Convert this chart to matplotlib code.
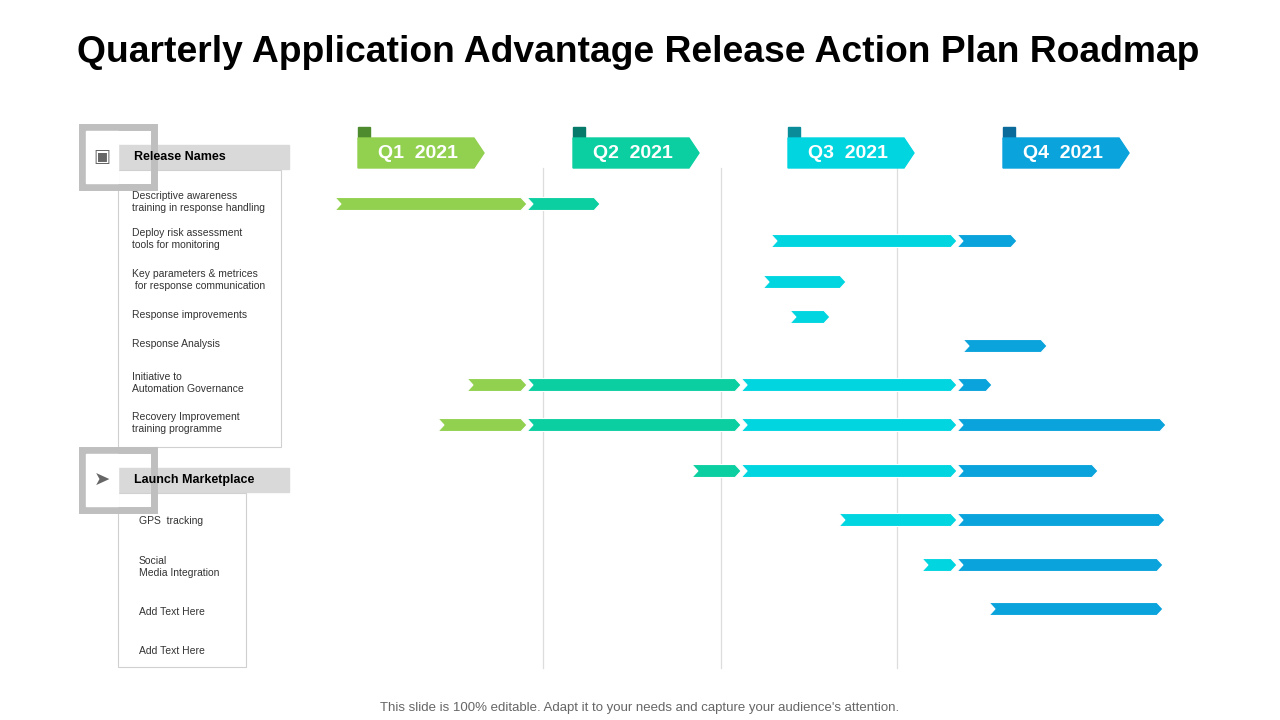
import matplotlib.pyplot as plt
from matplotlib.patches import Polygon, Rectangle

plt.rcParams["font.family"] = "Liberation Sans"

# timeline unit: 1.0 = one quarter, 0 = start of the Q1 flag
quarters = ["Q1  2021", "Q2  2021", "Q3  2021", "Q4  2021"]
quarter_colors = ["#92D050", "#0BCFA0", "#00D5E0", "#0AA3DC"]
flag_tabs = ["#4E8A2E", "#067A6A", "#0A8C99", "#0A6A99"]
grid_at = [0.862, 1.688, 2.507]

release_names = ["Descriptive awareness\ntraining in response handling",
                 "Deploy risk assessment\ntools for monitoring",
                 "Key parameters & metrices\n for response communication",
                 "Response improvements",
                 "Response Analysis",
                 "Initiative to\nAutomation Governance",
                 "Recovery Improvement\ntraining programme"]
launch_names = ["GPS  tracking", "Social\nMedia Integration", "Add Text Here", "Add Text Here"]

row_y = [204, 241, 282, 317, 346, 385, 425, 471, 520, 565, 609]
# (row, start, end, colour index)
segments = [
    (0, -0.107, 0.786, 0), (0, 0.786, 1.126, 1),
    (1, 1.921, 2.786, 2), (1, 2.786, 3.065, 3),
    (2, 1.884, 2.270, 2),
    (3, 2.009, 2.195, 2),
    (4, 2.814, 3.205, 3),
    (5, 0.507, 0.786, 0), (5, 0.786, 1.782, 1), (5, 1.782, 2.786, 2), (5, 2.786, 2.949, 3),
    (6, 0.372, 0.786, 0), (6, 0.786, 1.782, 1), (6, 1.782, 2.786, 2), (6, 2.786, 3.758, 3),
    (7, 1.553, 1.782, 1), (7, 1.782, 2.786, 2), (7, 2.786, 3.442, 3),
    (8, 2.237, 2.786, 2), (8, 2.786, 3.753, 3),
    (9, 2.623, 2.786, 2), (9, 2.786, 3.744, 3),
    (10, 2.935, 3.744, 3),
]

X0, QW = 358, 215
def px(u):
    return X0 + u * QW

fig = plt.figure(figsize=(12.8, 7.2), dpi=100)
ax = fig.add_axes([0, 0, 1, 1])
ax.set_xlim(0, 1280)
ax.set_ylim(720, 0)
ax.axis("off")

ax.text(638, 53, "Quarterly Application Advantage Release Action Plan Roadmap",
        ha="center", va="center", fontsize=26.8, fontweight="bold")

for g in grid_at:
    ax.plot([px(g), px(g)], [168, 668], color="#DDDDDD", lw=0.9, zorder=0)

# quarter flags
for i, (q, c) in enumerate(zip(quarters, quarter_colors)):
    x = px(i)
    ax.add_patch(Rectangle((x, 127), 12, 12, color=flag_tabs[i], zorder=2))
    ax.add_patch(Polygon([(x, 138), (x + 116, 138), (x + 126, 153), (x + 116, 168), (x, 168)],
                         closed=True, color=c, zorder=3))
    ax.text(x + 60, 153, q, ha="center", va="center", color="white", fontsize=14,
            fontweight="bold", zorder=4)

# arrow segments
h = 13
for r, s, e, ci in segments:
    y = row_y[r]
    x1, x2 = px(s), px(e)
    pts = [(x1, y - h / 2), (x2 - 6, y - h / 2), (x2, y), (x2 - 6, y + h / 2),
           (x1, y + h / 2), (x1 + 6, y)]
    ax.add_patch(Polygon(pts, closed=True, color=quarter_colors[ci], ec="white", lw=0.8, zorder=3))

# left panels
def header(y, label, box_bottom, box_right):
    ax.add_patch(Rectangle((118, y - 12), 171, 24, color="#D9D9D9", zorder=1))
    ax.add_patch(Rectangle((82, y - 30), 72, 60, fill=False, ec="#BFBFBF", lw=5, zorder=2))
    ax.add_patch(Rectangle((86, y - 26), 32, 52, color="white", zorder=2))
    ax.text(134, y, label, ha="left", va="center", fontsize=9, fontweight="bold", zorder=3)
    ax.add_patch(Rectangle((118, y + 13), box_right - 118, box_bottom - y - 13, fill=False,
                           ec="#D0D0D0", lw=0.8, zorder=1))

header(157, "Release Names", 447, 281)
ax.text(102, 157, "\u25A3", ha="center", va="center", fontsize=13, color="#666666",
        family="DejaVu Sans", zorder=3)
header(480, "Launch Marketplace", 667, 246)
ax.text(102, 480, "\u27A4", ha="center", va="center", fontsize=14, color="#666666",
        family="DejaVu Sans", zorder=3)

for name, y in zip(release_names, row_y[:7]):
    ax.text(132, y - 2, name, ha="left", va="center", fontsize=7.5, color="#333333")
launch_y = [521, 567, 612, 651]
for name, y in zip(launch_names, launch_y):
    ax.text(139, y, name, ha="left", va="center", fontsize=7.5, color="#333333")

ax.text(640, 708, "This slide is 100% editable. Adapt it to your needs and capture your audience's attention.",
        ha="center", va="center", fontsize=9.5, color="#666666")

fig.savefig("out.png", dpi=100)
